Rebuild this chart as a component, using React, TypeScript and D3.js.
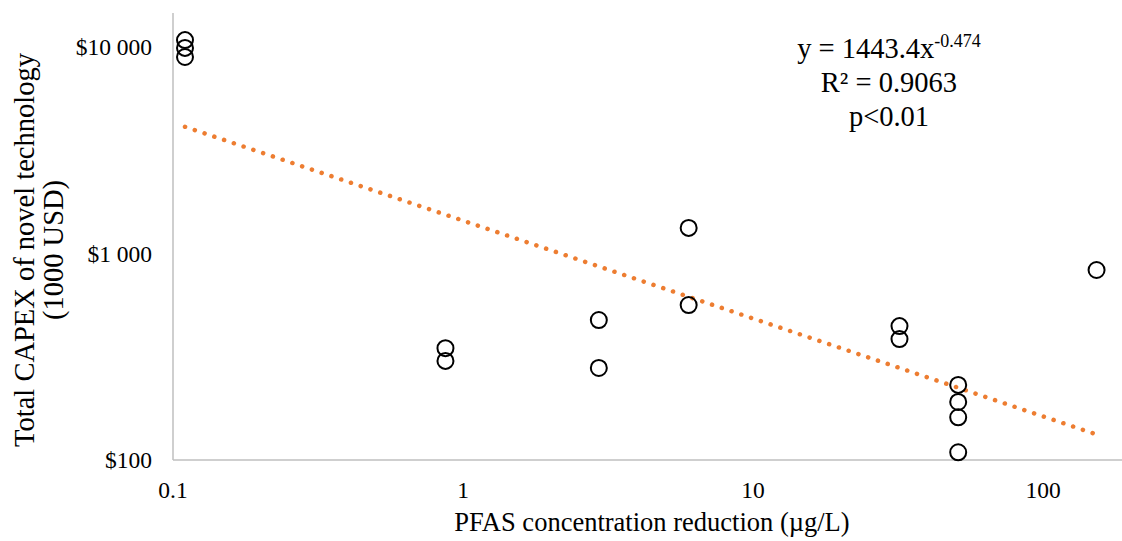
import React from "react";
import * as d3 from "d3";

const reduction = [0.11, 0.11, 0.11, 0.87, 0.87, 2.94, 2.94, 6.0, 6.0, 32, 32, 51, 51, 51, 51, 153];
const capex = [10800, 9900, 8950, 348, 302, 476, 279, 1330, 563, 445, 385, 231, 191, 161, 109, 832];
const xTicks = [0.1, 1, 10, 100];
const yTicks = [100, 1000, 10000];
const fitA = 1443.4;
const fitB = -0.474;
const fitLines = ["R² = 0.9063", "p<0.01"];

const W = 1122;
const H = 541;
const font = "'Liberation Serif', 'Times New Roman', serif";

const App = () => {
  const x = d3.scaleLog().domain([0.1, 1000]).range([173, 1333]);
  const y = d3.scaleLog().domain([100, 10000]).range([460, 47]);
  const yTop = 13;

  const fmt = (v: number) => "$" + d3.format(",")(v).replace(/,/g, " ");

  const xmin = d3.min(reduction) as number;
  const xmax = d3.max(reduction) as number;
  const fitPts = d3.range(0, 101).map((i) => {
    const xv = Math.exp(Math.log(xmin) + (i / 100) * (Math.log(xmax) - Math.log(xmin)));
    return [xv, fitA * Math.pow(xv, fitB)] as [number, number];
  });
  const fitPath = d3
    .line<[number, number]>()
    .x((d) => x(d[0]))
    .y((d) => y(d[1]))(fitPts);

  return (
    <div style={{ position: "fixed", left: 0, top: 0 }}>
      <svg width={W} height={H} style={{ display: "block", background: "#fff" }} fontFamily={font}>
        {/* axes */}
        <line x1={x(0.1)} x2={W} y1={y(100)} y2={y(100)} stroke="#bfbfbf" strokeWidth={1.5} />
        <line x1={x(0.1)} x2={x(0.1)} y1={yTop} y2={y(100)} stroke="#bfbfbf" strokeWidth={1.5} />

        {yTicks.map((t) => (
          <text key={t} x={152} y={y(t)} dy="0.35em" textAnchor="end" fontSize={23.5} fill="#000">
            {fmt(t)}
          </text>
        ))}
        {xTicks.map((t) => (
          <text key={t} x={x(t)} y={490} dy="0.35em" textAnchor="middle" fontSize={23.5} fill="#000">
            {d3.format("~g")(t)}
          </text>
        ))}

        {/* trendline */}
        <path
          d={fitPath || ""}
          fill="none"
          stroke="#ED7D31"
          strokeWidth={4.5}
          strokeLinecap="round"
          strokeDasharray="0.1 10.2"
        />

        {reduction.map((r, i) => (
          <circle key={i} cx={x(r)} cy={y(capex[i])} r={8} fill="none" stroke="#000" strokeWidth={2} />
        ))}

        {/* equation */}
        <text x={889} y={58} textAnchor="middle" fontSize={28.5} fill="#000">
          y = {fitA}x
          <tspan dy={-11} fontSize={18}>{fitB}</tspan>
        </text>
        {fitLines.map((s, i) => (
          <text key={s} x={889} y={92 + i * 33.5} textAnchor="middle" fontSize={28.5} fill="#000">
            {s}
          </text>
        ))}

        {/* axis titles */}
        <text x={652} y={522} dy="0.35em" textAnchor="middle" fontSize={26.5} fill="#000">
          PFAS concentration reduction (µg/L)
        </text>
        <g transform="translate(24,250) rotate(-90)">
          <text x={0} y={0} dy="0.35em" textAnchor="middle" fontSize={28.5} fill="#000">
            Total CAPEX of novel technology
          </text>
          <text x={0} y={29} dy="0.35em" textAnchor="middle" fontSize={28.5} fill="#000">
            (1000 USD)
          </text>
        </g>
      </svg>
    </div>
  );
};

export default App;
